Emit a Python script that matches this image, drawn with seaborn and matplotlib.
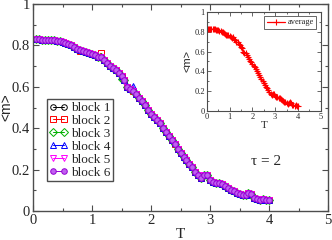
import numpy as np
import pandas as pd
import matplotlib
matplotlib.use("Agg")
import matplotlib.pyplot as plt
import seaborn as sns
from matplotlib.ticker import MultipleLocator, FuncFormatter

# temperatures (step 0.05)
T = [0.05, 0.10, 0.15, 0.20, 0.25, 0.30, 0.35, 0.40, 0.45, 0.50,
     0.55, 0.60, 0.65, 0.70, 0.75, 0.80, 0.85, 0.90, 0.95, 1.00,
     1.05, 1.10, 1.15, 1.20, 1.25, 1.30, 1.35, 1.40, 1.45, 1.50,
     1.55, 1.60, 1.65, 1.70, 1.75, 1.80, 1.85, 1.90, 1.95, 2.00,
     2.05, 2.10, 2.15, 2.20, 2.25, 2.30, 2.35, 2.40, 2.45, 2.50,
     2.55, 2.60, 2.65, 2.70, 2.75, 2.80, 2.85, 2.90, 2.95, 3.00,
     3.05, 3.10, 3.15, 3.20, 3.25, 3.30, 3.35, 3.40, 3.45, 3.50,
     3.55, 3.60, 3.65, 3.70, 3.75, 3.80, 3.85, 3.90, 3.95, 4.00]

# magnetisation (blocks overlap almost everywhere)
m_base = [0.830, 0.830, 0.828, 0.828, 0.826, 0.825, 0.824, 0.822, 0.820, 0.815,
          0.812, 0.805, 0.800, 0.793, 0.785, 0.778, 0.772, 0.768, 0.764, 0.760,
          0.752, 0.742, 0.745, 0.732, 0.715, 0.700, 0.692, 0.680, 0.668, 0.650,
          0.632, 0.598, 0.590, 0.580, 0.565, 0.548, 0.530, 0.510, 0.490, 0.470,
          0.455, 0.442, 0.425, 0.400, 0.380, 0.362, 0.345, 0.322, 0.300, 0.282,
          0.262, 0.245, 0.228, 0.212, 0.190, 0.172, 0.160, 0.172, 0.175, 0.150,
          0.140, 0.137, 0.133, 0.128, 0.120, 0.112, 0.103, 0.095, 0.088, 0.082,
          0.075, 0.078, 0.088, 0.082, 0.065, 0.058, 0.055, 0.056, 0.054, 0.054]

# visible outliers of single blocks: {block: {T: m}}
outliers = {
    "block 2": {1.15: 0.762, 0.80: 0.772},
    "block 3": {1.50: 0.640},
    "block 4": {1.70: 0.605, 2.40: 0.330},
}

blocks = ["block 1", "block 2", "block 3", "block 4", "block 5", "block 6"]
colors = ["black", "red", "#00b000", "blue", "magenta", "#9400d3"]
markers = ["o", "s", "D", "^", "v", "o"]

rows = []
for b in blocks:
    for t, m in zip(T, m_base):
        rows.append((b, t, outliers.get(b, {}).get(t, m)))
df = pd.DataFrame(rows, columns=["block", "T", "m"])
m_avg = df.pivot(index="T", columns="block", values="m").mean(axis=1).to_numpy()

sns.set_style("ticks")
plt.rcParams["font.family"] = ["Liberation Serif", "DejaVu Serif"]

fig = plt.figure(figsize=(3.32, 2.40), dpi=100)
ax = fig.add_axes([0.0994, 0.121, 0.889, 0.862])

for b, c, mk in zip(blocks, colors, markers):
    d = df[df["block"] == b]
    face = "#c060f0" if b == "block 6" else "none"
    sns.lineplot(data=d, x="T", y="m", ax=ax, color=c, marker=mk, ms=4,
                 mfc=face, mec=c, mew=0.7, lw=0.7, label=b)

fmt = FuncFormatter(lambda v, p: f"{v:g}")


def style_axes(a, lab, major, minor, lw):
    a.set_xlim(0, 5)
    a.set_ylim(0, 1)
    a.xaxis.set_major_locator(MultipleLocator(1))
    a.xaxis.set_minor_locator(MultipleLocator(0.5))
    a.yaxis.set_major_locator(MultipleLocator(0.2))
    a.yaxis.set_minor_locator(MultipleLocator(0.1))
    a.yaxis.set_major_formatter(fmt)
    a.tick_params(which="both", direction="in", top=True, right=True,
                  labelsize=lab, color="0.3", pad=2)
    a.tick_params(which="major", length=major, width=lw)
    a.tick_params(which="minor", length=minor, width=lw)
    for s in a.spines.values():
        s.set_color("0.3")
        s.set_linewidth(lw + 0.2)


style_axes(ax, 10.5, 4, 2.5, 0.8)
ax.set_xlabel("T", fontsize=11, labelpad=1)
ax.set_ylabel("<m>", fontsize=10, family="Liberation Sans", labelpad=1)
ax.yaxis.set_label_coords(-0.065, 0.5)
ax.text(3.7, 0.22, "τ = 2", fontsize=11)

leg = ax.legend(loc="upper left", bbox_to_anchor=(0.047, 0.54), borderaxespad=0,
                fontsize=9.5, handlelength=1.4, handletextpad=0.2, labelspacing=0.05,
                borderpad=0.2, numpoints=2, fancybox=False, framealpha=1)
leg.get_frame().set_edgecolor("0.3")
leg.get_frame().set_linewidth(1.0)

# inset with the average
ins = fig.add_axes([0.623, 0.5375, 0.343, 0.4125])
sns.lineplot(x=T, y=m_avg, ax=ins, color="red", marker="+", ms=5,
             mec="red", mew=0.8, lw=0.9, label="average")
style_axes(ins, 6, 3, 1.5, 0.6)
ins.tick_params(which="both", pad=1.5)
ins.set_xlabel("T", fontsize=8, labelpad=0)
ins.set_ylabel("<m>", fontsize=8, family="Liberation Sans", labelpad=1)
l2 = ins.legend(loc="upper right", fontsize=6, handlelength=2.2, handletextpad=0.3,
                borderpad=0.3, fancybox=False, framealpha=1, bbox_to_anchor=(0.96, 0.96),
                borderaxespad=0)
l2.get_frame().set_edgecolor("0.3")
l2.get_frame().set_linewidth(0.6)

fig.savefig("out.png", dpi=100)
